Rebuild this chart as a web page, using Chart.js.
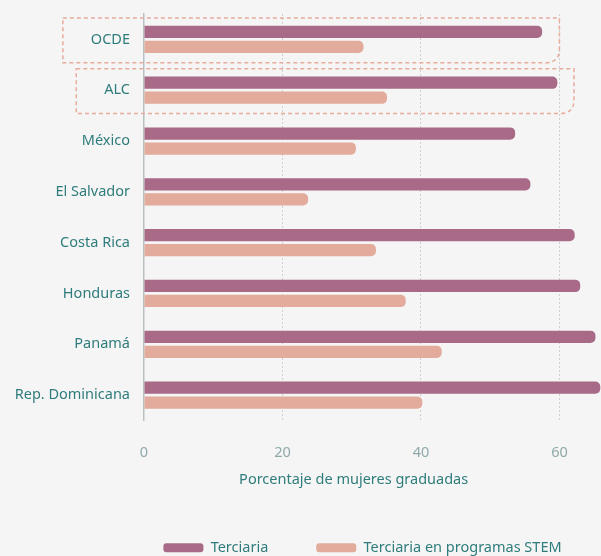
<!DOCTYPE html>
<html>
<head>
<meta charset="utf-8">
<script src="https://cdn.jsdelivr.net/npm/chart.js@4"></script>
<style>
  html, body { margin: 0; padding: 0; background: #f5f5f5; overflow: hidden; }
  #wrap { width: 601px; height: 565px; }
</style>
</head>
<body>
<div id="wrap"><canvas id="chart" width="601" height="565"></canvas></div>
<script>
// Porcentaje de mujeres graduadas: terciaria vs STEM

const paises = ['OCDE', 'ALC', 'México', 'El Salvador', 'Costa Rica', 'Honduras', 'Panamá', 'Rep. Dominicana'];
const terciaria = [57.5, 59.7, 53.6, 55.8, 62.2, 63.0, 65.2, 65.9];
const stem = [31.7, 35.1, 30.6, 23.7, 33.5, 37.8, 43.0, 40.2];
const ejeTicks = [0, 20, 40, 60];
const resaltados = [ { label: 'OCDE', hasta: 60 }, { label: 'ALC', hasta: 62.1 } ];

const TEAL = '#2e7c7b';
const FONT = '"Noto Sans", sans-serif';

// dashed boxes round OCDE and ALC
const boxes = {
  id: 'boxes',
  afterDatasetsDraw(chart){
    const {ctx, scales:{x, y}} = chart;
    const step = y.getPixelForValue(1) - y.getPixelForValue(0);
    ctx.save();
    ctx.font = '14.5px ' + FONT;
    ctx.strokeStyle = '#e8ab9c';
    ctx.lineWidth = 1.5;
    ctx.setLineDash([4, 3]);
    resaltados.forEach(r=>{
      const i = paises.indexOf(r.label);
      const cy = y.getPixelForValue(i) + 1;
      const tw = ctx.measureText(r.label).width;
      const left = y.right - 14 - tw - 28;
      const right = x.getPixelForValue(r.hasta);
      const top = cy - step*0.44, bot = cy + step*0.44;
      const rad = 14;
      ctx.beginPath();
      ctx.moveTo(left, top);
      ctx.lineTo(right, top);
      ctx.lineTo(right, bot - rad);
      ctx.quadraticCurveTo(right, bot, right - rad, bot);
      ctx.lineTo(left, bot);
      ctx.closePath();
      ctx.stroke();
    });
    ctx.restore();
  }
};

// nudge the legend to the right, like the reference
const legendShift = {
  id: 'legendShift',
  afterLayout(chart){
    if(chart.legend){ chart.legend.left += 62; chart.legend.right += 62; }
  }
};

new Chart(document.getElementById('chart'), {
  type: 'bar',
  data: {
    labels: paises,
    datasets: [
      { label: 'Terciaria', data: terciaria, backgroundColor: '#a86a87', borderRadius: 5,
        barPercentage: 0.82, categoryPercentage: 0.59 },
      { label: 'Terciaria en programas STEM', data: stem, backgroundColor: '#e2ab9b', borderRadius: 5,
        barPercentage: 0.82, categoryPercentage: 0.59 }
    ]
  },
  options: {
    indexAxis: 'y',
    responsive: false,
    animation: false,
    layout: { padding: { top: 14, left: 0, right: 0, bottom: 0 } },
    plugins: {
      tooltip: { enabled: false },
      legend: {
        position: 'bottom',
        labels: {
          color: TEAL, font: { family: FONT, size: 14.5 },
          boxWidth: 40, boxHeight: 9, padding: 48,
          useBorderRadius: true, borderRadius: 3
        }
      }
    },
    scales: {
      x: {
        min: 0, max: 66,
        afterFit(s){ s.height = 72; s.paddingLeft = 0; s.paddingRight = 0; },
        afterBuildTicks(s){ s.ticks = ejeTicks.map(v=>({value:v})).concat([{value:66}]); },
        ticks: {
          color: '#8fa9a9', font: { family: FONT, size: 14.5 }, padding: 24,
          callback: v => ejeTicks.includes(v) ? v : ''
        },
        grid: {
          drawTicks: false,
          color: c => (c.tick && c.tick.value > 0 && ejeTicks.includes(c.tick.value)) ? '#cfcfcf' : 'transparent',
          lineWidth: 1
        },
        border: { display: false, dash: [2, 2] },
        title: {
          display: true,
          text: 'Porcentaje de mujeres graduadas' + ' '.repeat(10),
          color: TEAL, font: { family: FONT, size: 14.5 },
          padding: { top: 0, bottom: 4 }
        }
      },
      y: {
        afterFit(s){ s.width = 144; s.paddingTop = 0; s.paddingBottom = 0; },
        ticks: { color: TEAL, font: { family: FONT, size: 14.5 }, padding: 14 },
        grid: { display: false, drawTicks: false },
        border: { display: true, color: '#b9c1c5', width: 1.5 }
      }
    }
  },
  plugins: [boxes, legendShift]
});
</script>
</body>
</html>
